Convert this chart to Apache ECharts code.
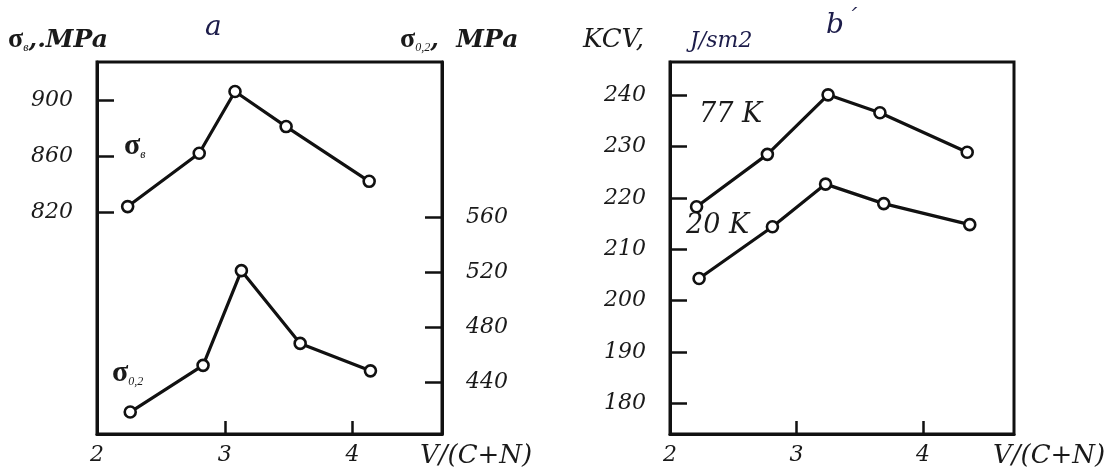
<!DOCTYPE html>
<html>
<head>
<meta charset="utf-8">
<script src="https://cdn.jsdelivr.net/npm/echarts@6/dist/echarts.min.js"></script>
<style>
html,body{margin:0;padding:0;background:#fff;}
#chart{width:1110px;height:472px;}
</style>
</head>
<body>
<div id="chart"></div>
<script>
// Panel a: V/(C+N) vs strength
const aUtsX = [2.24, 2.80, 3.08, 3.48, 4.13];
const aUtsY = [824, 862, 906, 881, 842];
const aYsX = [2.26, 2.83, 3.13, 3.59, 4.14];
const aYsY = [418, 452, 521, 468, 448];
// Panel b: KCV
const b77X = [2.21, 2.77, 3.25, 3.66, 4.35];
const b77Y = [218.3, 228.5, 240.1, 236.6, 228.9];
const b20X = [2.23, 2.81, 3.23, 3.69, 4.37];
const b20Y = [204.3, 214.4, 222.7, 218.9, 214.8];
// Tick labels
const xTicks = [3, 4];
const xLabels = [2, 3, 4];
const aLeftTicks = [820, 860, 900];
const aRightTicks = [440, 480, 520, 560];
const bLeftTicks = [180, 190, 200, 210, 220, 230, 240];

const pairs = (xs, ys) => xs.map((x, i) => [x, ys[i]]);
const FONT = 'DejaVu Serif';
const lbl = {fontFamily: FONT, fontStyle: 'italic', fontSize: 22, color: '#1a1a1a'};

function xAxis(gi, max) {
  return {
    type: 'value', gridIndex: gi, min: 2, max: max,
    axisLine: {show: true, onZero: false, lineStyle: {color: '#111', width: 3}},
    axisTick: {show: true, inside: true, length: 13, customValues: xTicks, lineStyle: {color: '#111', width: 2.5}},
    axisLabel: {show: true, customValues: xLabels, margin: 10, ...lbl},
    splitLine: {show: false}
  };
}
function yAxis(gi, min, max, ticks, pos) {
  return {
    type: 'value', gridIndex: gi, min: min, max: max, position: pos,
    axisLine: {show: true, onZero: false, lineStyle: {color: '#111', width: 3}},
    axisTick: {show: true, inside: true, length: 17, customValues: ticks, lineStyle: {color: '#111', width: 2.5}},
    axisLabel: {show: true, customValues: ticks, margin: 24, ...lbl},
    splitLine: {show: false}
  };
}
function line(xi, yi, data) {
  return {
    type: 'line', xAxisIndex: xi, yAxisIndex: yi, data: data,
    symbol: 'circle', symbolSize: 11, showSymbol: true,
    lineStyle: {color: '#111', width: 3.2},
    itemStyle: {color: '#fff', borderColor: '#111', borderWidth: 2.6},
    animation: false, silent: true
  };
}
function txt(x, y, text, size, extra) {
  return {type: 'text', left: x, top: y, silent: true,
    style: Object.assign({text: text, fontFamily: FONT, fontStyle: 'italic', fontSize: size, fill: '#1a1a1a'}, extra || {})};
}
function sigma(x, y, sub, tail, sSize) {
  return {type: 'text', left: x, top: y, silent: true, style: {
    text: '{s|σ}{sub|' + sub + '}' + (tail ? '{t|' + tail + '}' : ''), rich: {
      s: {fontFamily: 'Liberation Serif', fontSize: sSize, fontWeight: 'bold', fill: '#1a1a1a'},
      sub: {fontFamily: 'Liberation Serif', fontStyle: 'italic', fontSize: 12, fill: '#1a1a1a', verticalAlign: 'bottom', padding: [12, 0, 0, 0]},
      t: {fontFamily: FONT, fontStyle: 'italic', fontWeight: 'bold', fontSize: 25, fill: '#1a1a1a'}
    }}};
}

const chart = echarts.init(document.getElementById('chart'), null, {renderer: 'canvas'});
chart.setOption({
  backgroundColor: '#fff',
  animation: false,
  grid: [
    {left: 97, right: 668, top: 62, bottom: 38, show: true, borderColor: '#111', borderWidth: 3, outerBoundsMode: 'none'},
    {left: 670, right: 96, top: 62, bottom: 38, show: true, borderColor: '#111', borderWidth: 3, outerBoundsMode: 'none'}
  ],
  xAxis: [xAxis(0, 4.7), xAxis(1, 4.72)],
  yAxis: [
    yAxis(0, 662, 927, aLeftTicks, 'left'),
    yAxis(0, 402, 673, aRightTicks, 'right'),
    yAxis(1, 174, 246.5, bLeftTicks, 'left')
  ],
  series: [
    line(0, 0, pairs(aUtsX, aUtsY)),
    line(0, 1, pairs(aYsX, aYsY)),
    line(1, 2, pairs(b77X, b77Y)),
    line(1, 2, pairs(b20X, b20Y))
  ],
  graphic: [
    sigma(8, 26, 'в', ',.MPa', 28),
    txt(205, 14, 'a', 28, {fill: '#1c1c4a'}),
    sigma(400, 26, '0,2', ',  MPa', 28),
    sigma(124, 131, 'в', '', 30),
    sigma(112, 358, '0,2', '', 30),
    txt(420, 443, 'V/(C+N)', 26),
    txt(993, 443, 'V/(C+N)', 26),
    txt(583, 27, 'KCV,', 26),
    txt(690, 30, 'J/sm2', 22, {fill: '#1c1c4a'}),
    txt(826, 12, 'b', 28, {fill: '#1c1c4a'}),
    txt(846, 8, '´', 22, {fill: '#1c1c4a'}),
    txt(699, 101, '77 K', 27),
    txt(686, 212, '20 K', 27)
  ]
});
</script>
</body>
</html>
